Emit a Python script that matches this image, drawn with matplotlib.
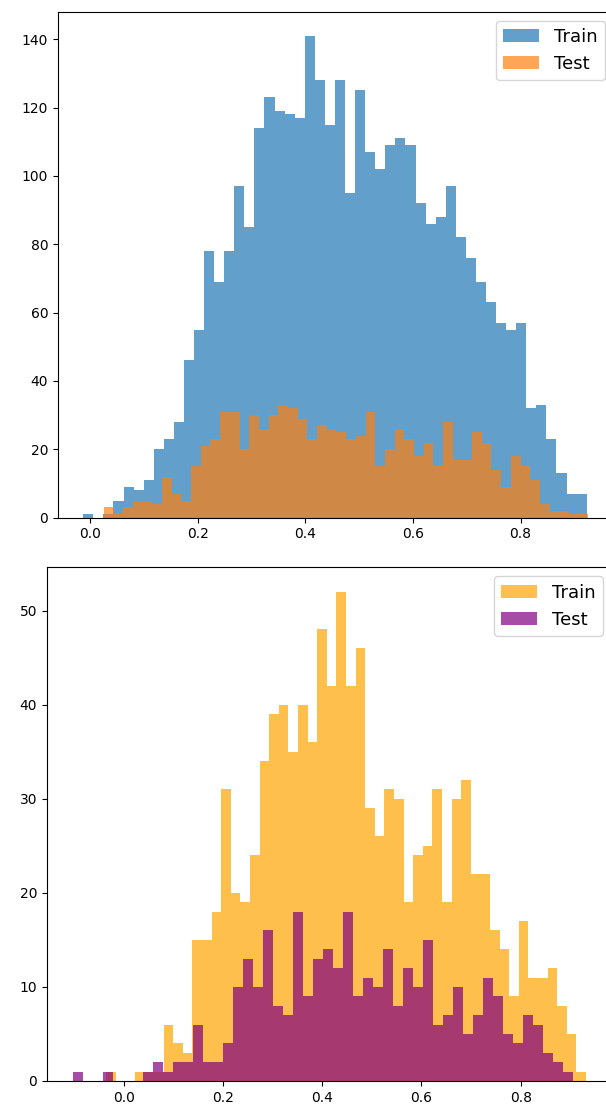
import numpy as np
import matplotlib
matplotlib.use('Agg')
import matplotlib.pyplot as plt

# top panel: counts per bin (50 bins each), with the range each histogram covers
top_train_range = (-0.0124, 0.9227)
top_train_counts = [1, 0, 1, 5, 9, 8, 11, 20, 23, 28,
                    46, 55, 78, 69, 78, 97, 85, 114, 123, 119,
                    118, 117, 141, 128, 115, 128, 95, 125, 107, 102,
                    109, 111, 109, 92, 86, 88, 97, 82, 76, 69,
                    63, 57, 55, 57, 32, 33, 23, 13, 7, 7]
top_test_range = (0.026, 0.9258)
top_test_counts = [3, 1, 3, 5, 5, 4, 12, 7, 5, 15,
                   21, 23, 31, 31, 20, 30, 26, 30, 33, 32,
                   29, 23, 27, 26, 25, 23, 24, 31, 15, 20,
                   26, 23, 18, 22, 15, 28, 17, 17, 25, 22,
                   14, 9, 18, 15, 11, 4, 2, 2, 1, 1]

# bottom panel
bot_train_range = (-0.0356, 0.9316)
bot_train_counts = [1, 0, 0, 1, 1, 1, 6, 4, 3, 15,
                    15, 18, 31, 20, 19, 24, 34, 39, 40, 35,
                    40, 36, 48, 42, 52, 42, 46, 29, 26, 31,
                    30, 19, 24, 25, 31, 19, 30, 32, 22, 22,
                    16, 14, 9, 17, 11, 11, 12, 8, 5, 1]
bot_test_range = (-0.103, 0.906)
bot_test_counts = [1, 0, 0, 1, 0, 0, 0, 1, 2, 1,
                   2, 2, 6, 2, 2, 4, 10, 13, 10, 16,
                   8, 7, 18, 9, 13, 14, 12, 18, 9, 11,
                   10, 14, 8, 12, 10, 15, 6, 7, 10, 5,
                   7, 11, 9, 5, 4, 7, 6, 3, 2, 1]


def draw_hist(ax, rng, counts, color, label):
    edges = np.linspace(rng[0], rng[1], len(counts) + 1)
    ax.hist(edges[:-1], bins=edges, weights=counts, color=color, alpha=0.7, label=label)


W, H = 606, 1109
fig = plt.figure(figsize=(W / 100, H / 100), dpi=100)

# the two panels don't share the left edge and run past the right border
ax1 = fig.add_axes([58 / W, (H - 517.7) / H, (613.6 - 58) / W, (517.7 - 11.7) / H])
draw_hist(ax1, top_train_range, top_train_counts, 'tab:blue', 'Train')
draw_hist(ax1, top_test_range, top_test_counts, 'tab:orange', 'Test')
ax1.legend(loc='upper right', fontsize=13)

ax2 = fig.add_axes([47 / W, (H - 1081) / H, (611.6 - 47) / W, (1081 - 567.3) / H])
draw_hist(ax2, bot_train_range, bot_train_counts, 'orange', 'Train')
draw_hist(ax2, bot_test_range, bot_test_counts, 'purple', 'Test')
ax2.legend(loc='upper right', fontsize=13)

fig.savefig('out.png', dpi=100)
